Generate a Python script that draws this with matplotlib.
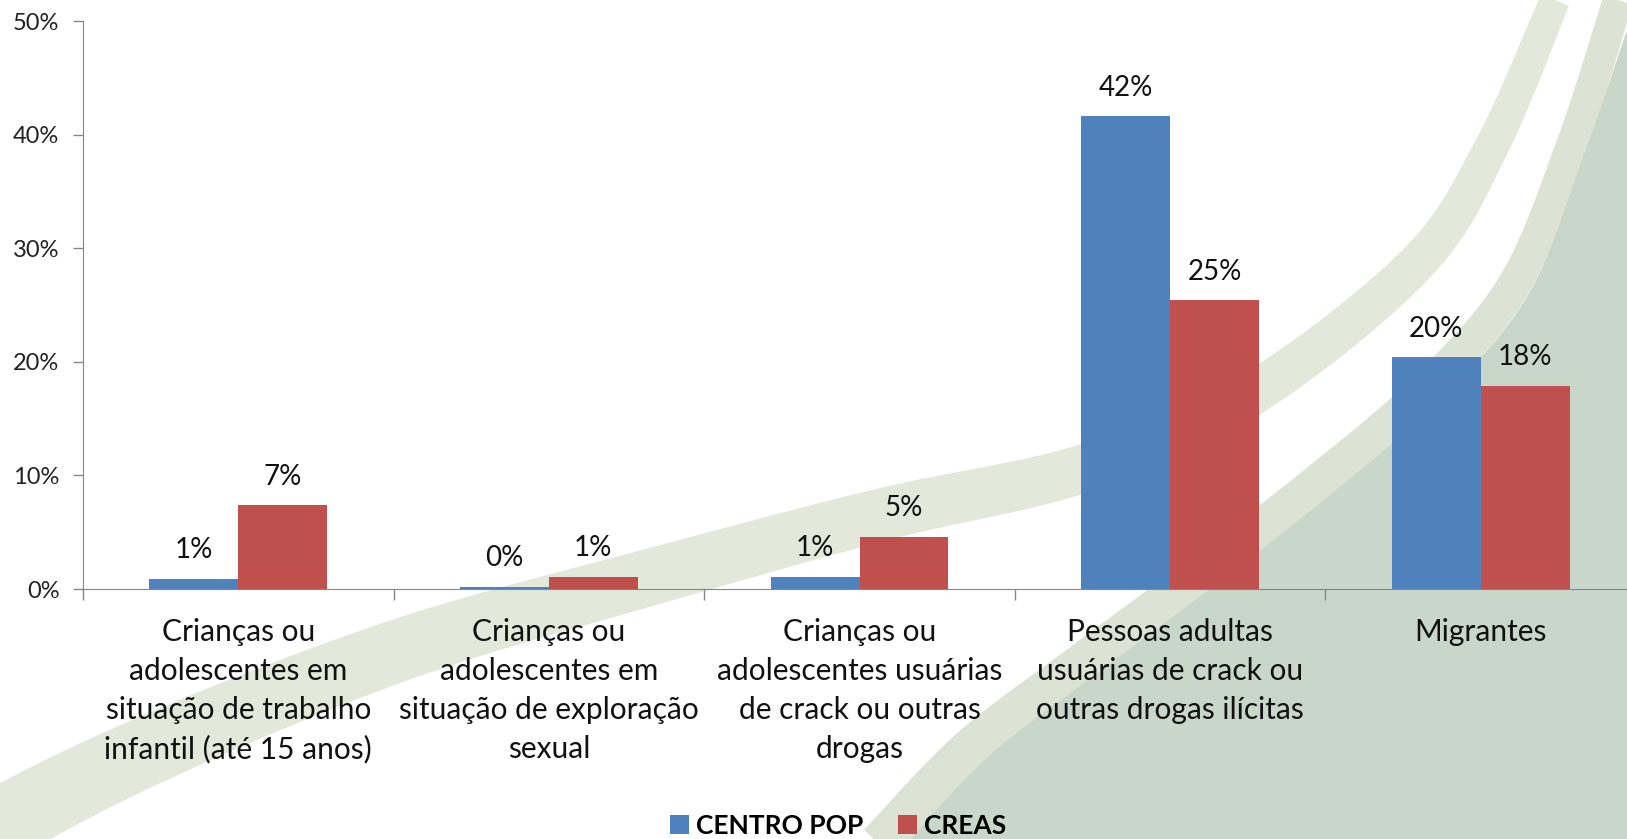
import numpy as np
import matplotlib
matplotlib.use('Agg')
from matplotlib import pyplot as plt
from matplotlib.ticker import FuncFormatter, FixedLocator
from matplotlib.patches import Polygon

plt.rcParams['font.family'] = ['Lato', 'DejaVu Sans']

"""Data
"""
categories = ['Crianças ou\nadolescentes em\nsituação de trabalho\ninfantil (até 15 anos)',
              'Crianças ou\nadolescentes em\nsituação de exploração\nsexual',
              'Crianças ou\nadolescentes usuárias\nde crack ou outras\ndrogas',
              'Pessoas adultas\nusuárias de crack ou\noutras drogas ilícitas',
              'Migrantes']
centro_pop = [0.9, 0.2, 1.1, 41.6, 20.4]
creas = [7.4, 1.1, 4.6, 25.4, 17.9]
series_names = ['CENTRO POP', 'CREAS']
yticks = [0, 10, 20, 30, 40, 50]

BLUE = '#4F81BD'
RED = '#C0504D'
W, H = 1627, 839


def smooth(pts, n=40):
    pts = np.array(pts, float)
    p = np.vstack([pts[0], pts, pts[-1]])
    out = []
    t = np.linspace(0, 1, n)[:, None]
    for i in range(1, len(p) - 2):
        p0, p1, p2, p3 = p[i - 1], p[i], p[i + 1], p[i + 2]
        out.append(0.5 * (2 * p1 + (-p0 + p2) * t + (2 * p0 - 5 * p1 + 4 * p2 - p3) * t ** 2
                          + (-p0 + 3 * p1 - 3 * p2 + p3) * t ** 3))
    return np.vstack(out)


def band(pts, w0, w1):
    c = smooth(pts)
    d = np.gradient(c, axis=0)
    nrm = np.stack([-d[:, 1], d[:, 0]], axis=1)
    nrm /= np.linalg.norm(nrm, axis=1)[:, None]
    w = np.linspace(w0, w1, len(c))[:, None] / 2
    return np.vstack([c + nrm * w, (c - nrm * w)[::-1]])


fig = plt.figure(figsize=(W / 100, H / 100), dpi=100)
fig.patch.set_facecolor('white')

# background swoosh (slide decoration)
bg = fig.add_axes([0, 0, 1, 1], zorder=0)
bg.set_xlim(0, W)
bg.set_ylim(H, 0)
bg.axis('off')
bg.add_patch(Polygon(band([(1555, 0), (1490, 150), (1415, 265), (1250, 395), (1085, 468),
                           (880, 515), (640, 580), (430, 640), (255, 705),
                           (102, 772), (-10, 830)], 30, 75),
                     closed=True, fc='#E3E8DB', ec='none'))
bg.add_patch(Polygon(band([(1618, 0), (1572, 145), (1514, 285), (1425, 390), (1315, 485),
                           (1200, 575), (1080, 665), (970, 750), (880, 845)], 30, 44),
                     closed=True, fc='#DCE3D4', ec='none'))
dark = smooth([(1627, 30), (1582, 160), (1528, 295), (1440, 400), (1330, 495),
               (1215, 585), (1095, 675), (990, 755), (905, 845)])
dark = np.vstack([dark, [(1627, 845)]])
bg.add_patch(Polygon(dark, closed=True, fc='#C9D6CA', ec='none'))

ax = fig.add_axes([83 / W, 1 - 589 / H, (1636 - 83) / W, (589 - 21) / H], zorder=1)
ax.patch.set_alpha(0)

x = np.arange(len(categories))
bw = 0.286
b1 = ax.bar(x - bw / 2, centro_pop, bw, color=BLUE, label=series_names[0])
b2 = ax.bar(x + bw / 2, creas, bw, color=RED, label=series_names[1])
for bars, vals in [(b1, centro_pop), (b2, creas)]:
    for r, v in zip(bars, vals):
        ax.annotate('%d%%' % round(v), (r.get_x() + r.get_width() / 2, r.get_height()),
                    xytext=(0, 11), textcoords='offset points', ha='center', va='bottom',
                    fontsize=20, color='#111111')

ax.set_xlim(-0.5, len(categories) - 0.5)
ax.set_ylim(0, 50)
ax.set_yticks(yticks)
ax.yaxis.set_major_formatter(FuncFormatter(lambda v, p: '%d%%' % v))
ax.tick_params(axis='y', length=7, width=1, color='#868686', labelsize=17, pad=10,
               labelcolor='#222222')
ax.set_xticks(x)
ax.set_xticklabels(categories, fontsize=21.5, linespacing=1.47, color='#111111')
ax.tick_params(axis='x', which='major', length=0, pad=21)
ax.xaxis.set_minor_locator(FixedLocator(np.arange(-0.5, len(categories), 1.0)))
ax.tick_params(axis='x', which='minor', length=8, width=1, color='#868686')
for s in ['top', 'right']:
    ax.spines[s].set_visible(False)
for s in ['left', 'bottom']:
    ax.spines[s].set_color('#868686')

leg = fig.legend(handles=[b1, b2], loc='center', bbox_to_anchor=(0.515, 0.016), ncol=2,
                 frameon=False, prop={'weight': 'bold', 'size': 19}, handlelength=0.75,
                 handleheight=0.75, handletextpad=0.25, columnspacing=1.3)

fig.savefig('out.png', dpi=100)
